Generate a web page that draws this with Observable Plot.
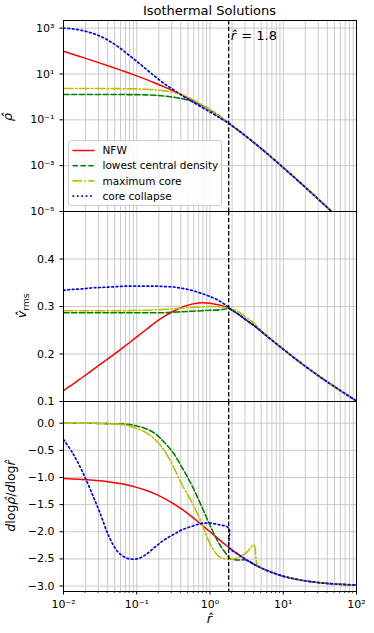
<!DOCTYPE html>
<html><head><meta charset="utf-8">
<script src="https://cdn.jsdelivr.net/npm/d3@7"></script>
<script src="https://cdn.jsdelivr.net/npm/@observablehq/plot@0.6"></script>
<style>
body{margin:0;background:#fff;}
#wrap{position:relative;width:374px;height:633px;font-family:"DejaVu Sans",sans-serif;}
#wrap svg{position:absolute;left:0;top:0;overflow:visible;}
</style></head><body><div id="wrap"></div>
<script>
// ---- data (log10 of r-hat) ----
const logR = [-2, -1.875, -1.75, -1.625, -1.5, -1.375, -1.25, -1.125, -1, -0.875, -0.75, -0.625, -0.5, -0.375, -0.25, -0.125, 0, 0.125, 0.255, 0.265, 0.375, 0.5, 0.6, 0.65, 0.75, 1, 1.25, 1.5, 1.75, 2];

// top panel: log10(rho-hat)
const rhoNFW = [1.991, 1.864, 1.735, 1.605, 1.473, 1.339, 1.202, 1.062, 0.917, 0.766, 0.608, 0.440, 0.261, 0.069, -0.138, -0.361, -0.602, -0.861, -1.149, -1.172, -1.431, -1.739, -1.995, -2.125, -2.392, -3.083, -3.797, -4.527, -5.265, -6.009];
const rhoLowest = [0.104, 0.104, 0.104, 0.104, 0.104, 0.104, 0.103, 0.102, 0.100, 0.090, 0.070, 0.040, -0.010, -0.080, -0.190, -0.350, -0.560, -0.830, -1.149, -1.172, -1.431, -1.739, -1.995, -2.125, -2.392, -3.083, -3.797, -4.527, -5.265, -6.009];
const rhoMaxCore = [0.365, 0.365, 0.365, 0.364, 0.364, 0.362, 0.360, 0.357, 0.350, 0.335, 0.310, 0.265, 0.200, 0.090, -0.090, -0.320, -0.570, -0.860, -1.149, -1.172, -1.431, -1.739, -1.995, -2.125, -2.392, -3.083, -3.797, -4.527, -5.265, -6.009];
const rhoCollapse = [3.00, 2.97, 2.90, 2.80, 2.65, 2.44, 2.18, 1.87, 1.55, 1.22, 0.89, 0.58, 0.31, 0.05, -0.19, -0.43, -0.66, -0.90, -1.149, -1.172, -1.431, -1.739, -1.995, -2.125, -2.392, -3.083, -3.797, -4.527, -5.265, -6.009];

// middle panel: v_rms
const vNFW = [0.123, 0.136, 0.150, 0.164, 0.178, 0.192, 0.206, 0.221, 0.236, 0.251, 0.266, 0.279, 0.290, 0.299, 0.305, 0.308, 0.307, 0.303, 0.297, 0.296, 0.285, 0.271, 0.260, 0.254, 0.241, 0.210, 0.180, 0.152, 0.126, 0.101];
const vLowest = [0.287, 0.287, 0.287, 0.287, 0.287, 0.287, 0.287, 0.287, 0.287, 0.287, 0.287, 0.287, 0.288, 0.289, 0.290, 0.291, 0.292, 0.293, 0.296, 0.296, 0.285, 0.271, 0.260, 0.254, 0.241, 0.210, 0.180, 0.152, 0.126, 0.101];
const vMaxCore = [0.291, 0.291, 0.291, 0.291, 0.291, 0.291, 0.291, 0.291, 0.292, 0.292, 0.293, 0.294, 0.295, 0.297, 0.298, 0.299, 0.300, 0.299, 0.297, 0.297, 0.290, 0.277, 0.265, 0.257, 0.243, 0.210, 0.180, 0.152, 0.126, 0.101];
const vCollapse = [0.334, 0.336, 0.337, 0.339, 0.340, 0.341, 0.342, 0.343, 0.343, 0.343, 0.343, 0.342, 0.341, 0.338, 0.334, 0.328, 0.321, 0.312, 0.298, 0.296, 0.285, 0.271, 0.260, 0.254, 0.241, 0.210, 0.180, 0.152, 0.126, 0.101];

// bottom panel: dlog rho / dlog r
const sNFW = [-1.020, -1.026, -1.035, -1.046, -1.061, -1.081, -1.106, -1.140, -1.182, -1.235, -1.302, -1.383, -1.481, -1.593, -1.720, -1.857, -2.000, -2.143, -2.285, -2.296, -2.407, -2.520, -2.598, -2.634, -2.698, -2.818, -2.893, -2.939, -2.965, -2.980];
const sLowest = [0, 0, 0, 0, -0.005, -0.008, -0.012, -0.020, -0.050, -0.100, -0.190, -0.350, -0.550, -0.830, -1.140, -1.500, -1.880, -2.220, -2.470, -2.490, -2.520, -2.520, -2.598, -2.634, -2.698, -2.818, -2.893, -2.939, -2.965, -2.980];
const sMaxCore = [0, 0, 0, 0, -0.005, -0.010, -0.020, -0.040, -0.100, -0.170, -0.300, -0.500, -0.800, -1.150, -1.450, -1.800, -2.220, -2.460, -2.510, -2.510, -2.480, -2.380, -2.240, -2.620, -2.698, -2.818, -2.893, -2.939, -2.965, -2.980];
const sCollapse = [-0.300, -0.550, -0.870, -1.250, -1.660, -2.100, -2.380, -2.490, -2.500, -2.420, -2.280, -2.150, -2.050, -1.960, -1.900, -1.850, -1.840, -1.870, -1.930, -2.296, -2.407, -2.520, -2.598, -2.634, -2.698, -2.818, -2.893, -2.939, -2.965, -2.980];

const seriesNames = ["NFW", "lowest central density", "maximum core", "core collapse"];
const seriesColors = ["#ff0000", "#008000", "#bfbf00", "#0000ff"];
const seriesDash = [undefined, "5.5,2.4", "9.6,2.4,1.5,2.4", "1.7,2.7"];
const seriesWidth = [1.5, 1.6, 1.6, 1.7];

const rOne = 1.8;
const annotText = "= 1.8";
const titleText = "Isothermal Solutions";
const xMajor = [0.01, 0.1, 1, 10, 100];
const xTickLabels = ["10⁻²", "10⁻¹", "10⁰", "10¹", "10²"];
const rhoTicks = [1e-5, 1e-3, 1e-1, 1e1, 1e3];
const rhoTickLabels = ["10⁻⁵", "10⁻³", "10⁻¹", "10¹", "10³"];
const vTicks = [0.1, 0.2, 0.3, 0.4];
const slopeTicks = [-3, -2.5, -2, -1.5, -1, -0.5, 0];

// minor log grid positions
const xGrid = [];
for (let e = -2; e <= 1; e++) for (let k = 1; k <= 9; k++) xGrid.push(k * Math.pow(10, e));
xGrid.push(100);

function rows(arrs, tf = v => v) {
  return arrs.flatMap((arr, i) => arr.map((v, j) => ({r: Math.pow(10, logR[j]), v: tf(v), s: seriesNames[i]})));
}

const W = 374, H = 633;
function panel(top, bottom, yOpt, data, showX, extra = []) {
  return Plot.plot({
    width: W, height: H,
    marginLeft: 63, marginRight: 18, marginTop: top, marginBottom: H - bottom,
    style: {background: "transparent", fontFamily: "DejaVu Sans", fontSize: "11px", color: "black", overflow: "visible"},
    x: {type: "log", domain: [0.01, 100], axis: showX ? "bottom" : null, ticks: xMajor,
        tickFormat: d => xTickLabels[xMajor.indexOf(d)], tickSize: 3.5, label: null},
    y: Object.assign({tickSize: 3.5, label: null}, yOpt),
    marks: [
      Plot.ruleX(xGrid, {stroke: "#c4c4c4", strokeWidth: 0.9}),
      Plot.ruleY(yOpt.ticks, {stroke: "#c4c4c4", strokeWidth: 0.9}),
      ...seriesNames.map((s, i) => Plot.line(data.filter(d => d.s === s), {
        x: "r", y: "v", stroke: seriesColors[i], strokeWidth: seriesWidth[i],
        strokeDasharray: seriesDash[i], curve: "catmull-rom", clip: true
      })),
      Plot.ruleX([rOne], {stroke: "black", strokeWidth: 1.3, strokeDasharray: "4.5,2.2"}),
      ...extra,
      Plot.frame({stroke: "black", strokeWidth: 1})
    ]
  });
}

const wrap = document.getElementById("wrap");

const p1 = panel(20, 211, {type: "log", domain: [1e-5, 2160], ticks: rhoTicks,
  tickFormat: d => rhoTickLabels[rhoTicks.indexOf(d)]},
  rows([rhoNFW, rhoLowest, rhoMaxCore, rhoCollapse], v => Math.pow(10, v)), false,
  [
    Plot.text([{r: rOne, y: 480}], {x: "r", y: "y", text: () => "r̂", fontStyle: "italic", fontSize: 13, textAnchor: "start", dx: 2}),
    Plot.text([{r: rOne, y: 480}], {x: "r", y: "y", text: () => annotText, fontSize: 13, textAnchor: "start", dx: 12.5})
  ]);
const p2 = panel(211, 401, {domain: [0.1, 0.5], ticks: vTicks, tickFormat: d => d.toFixed(1)},
  rows([vNFW, vLowest, vMaxCore, vCollapse]), false);
const p3 = panel(401, 591, {domain: [-3.1, 0.4], ticks: slopeTicks,
  tickFormat: d => (d < 0 ? "−" : "") + Math.abs(d).toFixed(1)},
  rows([sNFW, sLowest, sMaxCore, sCollapse]), true);

wrap.appendChild(p3); wrap.appendChild(p2); wrap.appendChild(p1);

// minor x ticks on bottom axis
const xs = p3.scale("x");
const g3 = d3.select(p3);
xGrid.filter(v => !xMajor.includes(v)).forEach(v => {
  const px = xs.apply(v);
  g3.append("line").attr("x1", px).attr("x2", px).attr("y1", 591).attr("y2", 593).attr("stroke", "black").attr("stroke-width", 0.8);
});
// x label
g3.append("text").attr("x", 209.5).attr("y", 623).attr("text-anchor", "middle")
  .style("font-size", "13px").style("font-style", "italic").text("r̂");
// bottom y label
const yl3 = g3.append("text").attr("transform", "translate(15,496) rotate(-90)").attr("text-anchor", "middle")
  .style("font-size", "12.5px");
yl3.append("tspan").style("font-style", "italic").text("d");
yl3.append("tspan").text("log");
yl3.append("tspan").style("font-style", "italic").text("ρ̂");
yl3.append("tspan").text("/");
yl3.append("tspan").style("font-style", "italic").text("d");
yl3.append("tspan").text("log");
yl3.append("tspan").style("font-style", "italic").text("r̂");

// middle y label
const g2 = d3.select(p2);
const yl2 = g2.append("text").attr("transform", "translate(26,306) rotate(-90)").attr("text-anchor", "middle")
  .style("font-size", "13px");
yl2.append("tspan").style("font-style", "italic").text("v̂");
yl2.append("tspan").attr("dy", "3").style("font-size", "9px").text("rms");

// top panel: y label, title, legend
const g1 = d3.select(p1);
g1.append("text").attr("transform", "translate(12,117) rotate(-90)").attr("text-anchor", "middle")
  .style("font-size", "13px").style("font-style", "italic").text("ρ̂");
g1.append("text").attr("x", 209.5).attr("y", 15).attr("text-anchor", "middle")
  .style("font-size", "13px").text(titleText);
const lg = g1.append("g");
lg.append("rect").attr("x", 68.5).attr("y", 140.5).attr("width", 153).attr("height", 65).attr("rx", 2.5)
  .attr("fill", "white").attr("fill-opacity", 0.85).attr("stroke", "#cccccc");
seriesNames.forEach((s, i) => {
  const y = 150.5 + i * 15.2;
  lg.append("line").attr("x1", 72.5).attr("x2", 94.5).attr("y1", y).attr("y2", y)
    .attr("stroke", seriesColors[i]).attr("stroke-width", seriesWidth[i])
    .attr("stroke-dasharray", seriesDash[i] || null);
  lg.append("text").attr("x", 102.5).attr("y", y).attr("dy", "0.35em").attr("text-anchor", "start")
    .style("font-size", "10.5px").text(s);
});
</script></body></html>
